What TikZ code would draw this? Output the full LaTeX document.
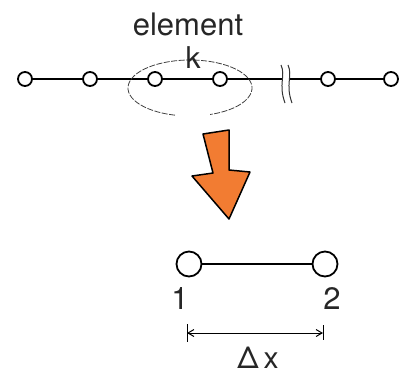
\documentclass[tikz,border=0pt]{standalone}
\usepackage{fontspec}
\setmainfont{TeX Gyre Heros}
\usetikzlibrary{arrows.meta,positioning}
\definecolor{arroworange}{RGB}{242,124,50}
\tikzset{
  joint/.style={circle,draw,line width=1.8pt,fill=white,minimum size=14pt,inner sep=0pt},
  bigjoint/.style={circle,draw,line width=1.8pt,fill=white,minimum size=25pt,inner sep=0pt},
  bar/.style={line width=1.9pt},
  lbl/.style={inner sep=0pt,text=black!85},
}
\begin{document}
\begin{tikzpicture}[x=1pt,y=-1pt]
\useasboundingbox (0,0) rectangle (401,376);
% chain of joints
\foreach \name/\xx in {n1/25,n2/90,n3/155,n4/220,n5/328,n6/391}
  \node[joint] (\name) at (\xx,79) {};
\coordinate (br1) at (283,79);
\coordinate (br2) at (290,79);
\draw[bar] (n1) -- (n2) -- (n3) -- (n4) -- (br1);
\draw[bar] (br2) -- (n5) -- (n6);
\draw[line width=1pt,black!80] (281,65) .. controls (286,76) and (278,84) .. (285,103);
\draw[line width=1pt,black!80] (288,65) .. controls (293,76) and (285,84) .. (292,103);
% element k
\draw[line width=0.8pt,black!75,dash pattern=on 6pt off 1.5pt] (190,88) ++(104:62 and 28) arc[start angle=104,end angle=431,x radius=62,y radius=28];
\node[lbl,font=\fontsize{31}{36}\selectfont,anchor=base] (elem) at (188,35) {element};
\node[lbl,font=\fontsize{30}{34}\selectfont,anchor=base] (k) at (193,68) {k};
% arrow
\draw[fill=arroworange,line width=1.5pt,line join=round] (203,134) -- (229,130) -- (229,170) -- (250,172) -- (229,219) -- (192,176) -- (213,173) -- cycle;
% single element
\node[bigjoint] (b1) at (189,264) {};
\node[bigjoint] (b2) at (325,264) {};
\draw[bar] (b1) -- (b2);
\node[lbl,font=\fontsize{31}{36}\selectfont] (l1) at (180,299) {1};
\node[lbl,font=\fontsize{31}{36}\selectfont] (l2) at (332,299) {2};
\coordinate (d1) at (187,333);
\coordinate (d2) at (323,333);
\draw[line width=1pt] (187,324) -- (187,342);
\draw[line width=1pt] (323,325) -- (323,340);
\draw[line width=1pt,{Straight Barb[length=6pt,width=7pt]}-{Straight Barb[length=6pt,width=7pt]}] (d1) -- (d2);
\node[lbl,font=\fontsize{30}{34}\selectfont] (dx) at (258,358) {Δ\,x};
\end{tikzpicture}
\end{document}
